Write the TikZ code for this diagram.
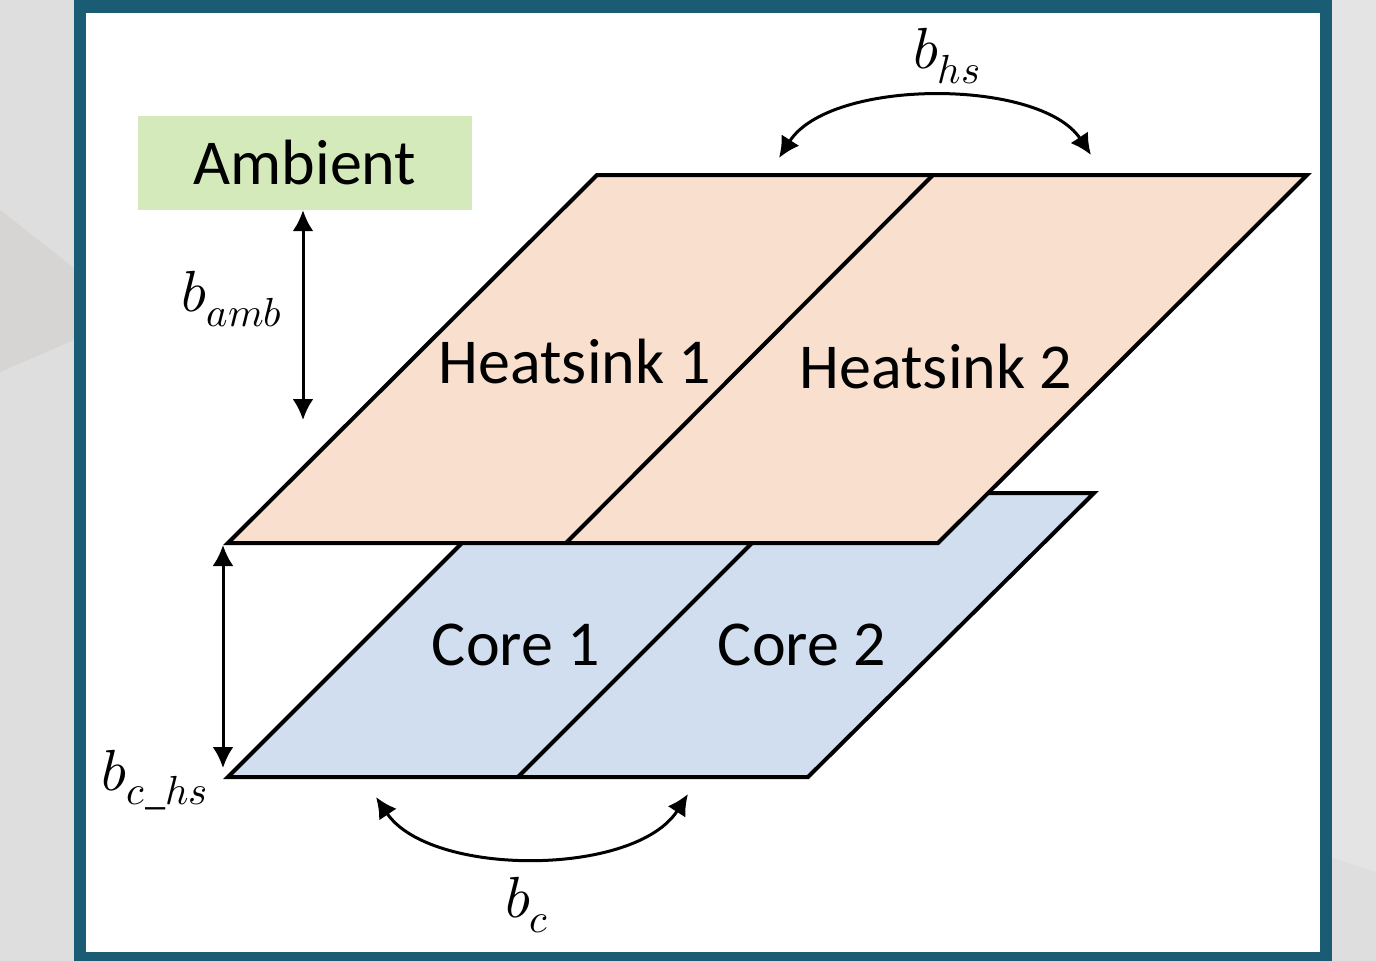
\documentclass[tikz,border=0pt]{standalone}
\usepackage{fontspec}
\usepackage{unicode-math}
\setmainfont{Carlito}
\setmathfont{Latin Modern Math}
\usetikzlibrary{arrows.meta}
\definecolor{framec}{RGB}{27,92,117}
\definecolor{hsfill}{RGB}{249,223,205}
\definecolor{corefill}{RGB}{209,222,240}
\definecolor{ambfill}{RGB}{212,234,186}
\definecolor{bgA}{RGB}{222,222,222}
\definecolor{bgB}{RGB}{214,213,212}
\definecolor{bgC}{RGB}{228,228,228}
\tikzset{
  plate/.style={draw=black, line width=4pt, line join=miter},
  lbl/.style={font=\fontsize{64}{72}\selectfont, inner sep=0pt},
  mlbl/.style={font=\fontsize{58}{66}\selectfont, inner sep=0pt},
  dbl/.style={line width=3pt, {Latex[length=21pt,width=21pt]}-{Latex[length=21pt,width=21pt]}},
}
\begin{document}
\begin{tikzpicture}[x=1pt,y=-1pt]
\useasboundingbox (0,0) rectangle (1376,961);
% background
\fill[bgA] (0,0) rectangle (1376,961);
\fill[bgB] (0,210) -- (74,268) -- (74,340) -- (0,372) -- cycle;
\fill[bgC] (1332,0) rectangle (1376,961);
\fill[bgA] (1332,858) -- (1376,872) -- (1376,961) -- (1332,961) -- cycle;
% frame
\fill[framec] (74,0) rectangle (1332,961);
\fill[white] (86,13) rectangle (1320,952);
% core plate
\fill[corefill] (228,777) -- (808,777) -- (1094,493) -- (512,493) -- cycle;
\draw[plate] (228,777) -- (808,777) -- (1094,493) -- (512,493) -- cycle;
\draw[plate] (518,777) -- (802,493);
% heatsink plate
\fill[hsfill] (228,543) -- (938,543) -- (1307,175) -- (597,175) -- cycle;
\draw[plate] (228,543) -- (938,543) -- (1307,175) -- (597,175) -- cycle;
\draw[plate] (566,543) -- (933,175);
% texts
\node[lbl] (hs1) at (575,362) {Heatsink 1};
\node[lbl] (hs2) at (936,367) {Heatsink 2};
\node[lbl] (c1) at (516,645) {Core 1};
\node[lbl] (c2) at (802,645) {Core 2};
% ambient
\node[fill=ambfill, minimum width=334pt, minimum height=94pt, inner sep=0pt, font=\fontsize{64}{72}\selectfont] (amb) at (305,163) {Ambient};
% labels
\node[mlbl] (lhs) at (947,56) {$b_{hs}$};
\node[mlbl] (lamb) at (232,299) {$b_{amb}$};
\node[mlbl] (lchs) at (155,780) {$b_{c\_hs}$};
\node[mlbl] (lc) at (527,905) {$b_{c}$};
% arrows
\coordinate (ambend) at (303,420);
\draw[dbl] (amb.south -| ambend) -- (ambend);
\coordinate (chsTop) at (223,545);
\coordinate (chsBot) at (223,768);
\draw[dbl] (chsTop) -- (chsBot);
\coordinate (hsL) at (779,158);
\coordinate (hsR) at (1091,155);
\draw[dbl] (hsL) .. controls (830,78) and (1040,78) .. (hsR);
\coordinate (cL) at (376,797);
\coordinate (cR) at (688,794);
\draw[dbl] (cL) .. controls (430,877) and (635,877) .. (cR);
\end{tikzpicture}
\end{document}
